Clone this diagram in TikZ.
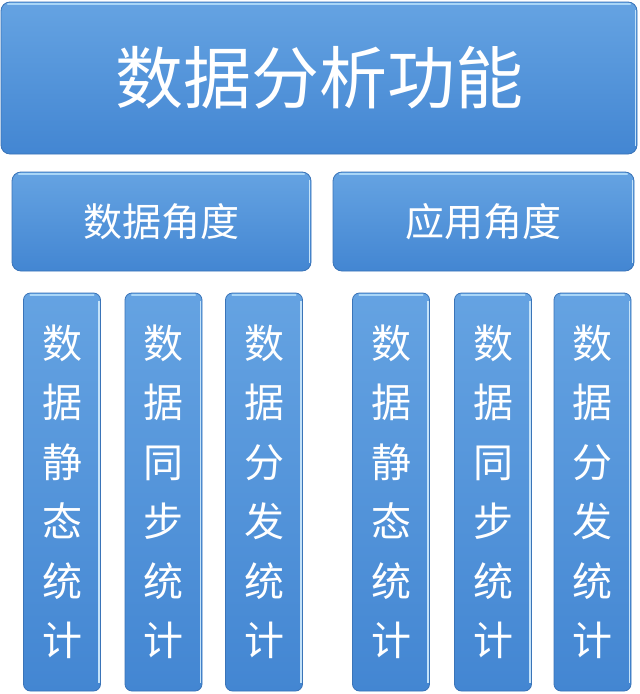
\documentclass[tikz,border=0pt]{standalone}
\usepackage{fontspec}
\newfontfamily\cjk{Noto Sans CJK SC}
\definecolor{boxtop}{HTML}{65A3E2}
\definecolor{boxbot}{HTML}{4386D2}
\definecolor{boxborder}{HTML}{3A74B8}
\definecolor{boxhl}{HTML}{A9D6F7}
\begin{document}
\begin{tikzpicture}[x=1pt,y=-1pt,
  bluebox/.style={rectangle, rounded corners=9pt, draw=boxborder, line width=0.8pt,
    top color=boxtop, bottom color=boxbot, inner sep=0pt, text=white,
    path picture={
      \draw[boxhl, line width=2.2pt, line cap=round]
        ([xshift=7pt,yshift=-1.8pt]path picture bounding box.north west) --
        ([xshift=-7pt,yshift=-1.8pt]path picture bounding box.north east);
      \draw[boxhl!70!white, line width=1.6pt]
        ([xshift=-1.6pt,yshift=-8pt]path picture bounding box.north east) --
        ([xshift=-1.6pt,yshift=8pt]path picture bounding box.south east);
    }},
  titlebox/.style={bluebox, font=\cjk\fontsize{68}{80}\selectfont},
  midbox/.style={bluebox, font=\cjk\fontsize{39}{46}\selectfont},
  colbox/.style={bluebox, rounded corners=7pt, minimum width=77pt, minimum height=398pt,
    align=center, font=\cjk\fontsize{40}{59.5}\selectfont}
]
\useasboundingbox[fill=white] (0,0) rectangle (640,694);
\node[titlebox, minimum width=636pt, minimum height=152pt] (title) at (319,78) {数据分析功能};
\node[midbox, minimum width=299pt, minimum height=99pt] (data) at (161.5,221.5) {数据角度};
\node[midbox, minimum width=301pt, minimum height=99pt] (app) at (483.5,221.5) {应用角度};
\node[colbox] (c1) at (62,492) {数\\据\\静\\态\\统\\计};
\node[colbox] (c2) at (163.5,492) {数\\据\\同\\步\\统\\计};
\node[colbox] (c3) at (264,492) {数\\据\\分\\发\\统\\计};
\node[colbox] (c4) at (391,492) {数\\据\\静\\态\\统\\计};
\node[colbox] (c5) at (493,492) {数\\据\\同\\步\\统\\计};
\node[colbox] (c6) at (592.5,492) {数\\据\\分\\发\\统\\计};
\end{tikzpicture}
\end{document}
